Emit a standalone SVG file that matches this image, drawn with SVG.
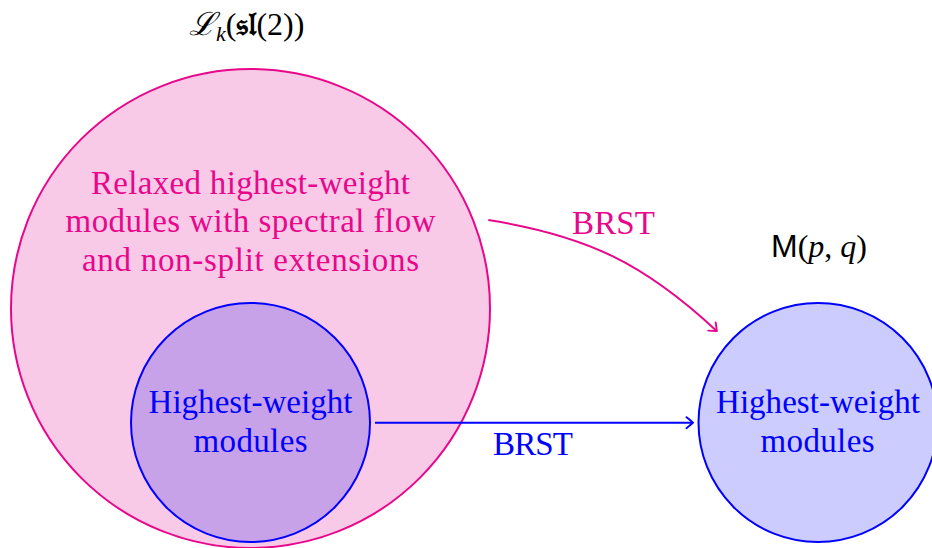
<svg xmlns="http://www.w3.org/2000/svg" width="932" height="548" viewBox="0 0 932 548">
<defs>
<style>
.lbl{font-family:"Liberation Serif","DejaVu Serif",serif;font-size:33px;text-anchor:middle}
.pk{fill:#E8078B}
.bl{fill:#0000FF}
.math{font-family:"Liberation Serif","DejaVu Serif",serif;font-size:32px;fill:#000}
</style>
<marker id="toB" viewBox="-9 -7 11 14" markerWidth="11" markerHeight="14" refX="0" refY="0" orient="auto" markerUnits="userSpaceOnUse">
<path d="M-6.5,-5.5 Q-1.5,-1.6 0,0 Q-1.5,1.6 -6.5,5.5" fill="none" stroke="#0000FF" stroke-width="1.9" stroke-linecap="round"/>
</marker>
<marker id="toP" viewBox="-9 -7 11 14" markerWidth="11" markerHeight="14" refX="0" refY="0" orient="auto" markerUnits="userSpaceOnUse">
<path d="M-6.5,-5.5 Q-1.5,-1.6 0,0 Q-1.5,1.6 -6.5,5.5" fill="none" stroke="#E8078B" stroke-width="1.9" stroke-linecap="round"/>
</marker>
</defs>
<rect width="932" height="548" fill="#fff"/>
<g id="relaxed">
<circle cx="250.5" cy="308.5" r="239.5" fill="#F9CAE8" stroke="#E8078B" stroke-width="2"/>
<text class="lbl pk" x="250.5" y="194" textLength="319" lengthAdjust="spacing">Relaxed highest-weight</text>
<text class="lbl pk" x="250.5" y="232" textLength="370" lengthAdjust="spacing">modules with spectral flow</text>
<text class="lbl pk" x="250.5" y="270.5" textLength="337" lengthAdjust="spacing">and non-split extensions</text>
</g>
<g id="hw-left">
<circle cx="250.5" cy="422.5" r="119.5" fill="#C8A2E9" stroke="#0000FF" stroke-width="2"/>
<text class="lbl bl" x="250.5" y="413" textLength="204" lengthAdjust="spacing">Highest-weight</text>
<text class="lbl bl" x="250.5" y="452" textLength="114" lengthAdjust="spacing">modules</text>
</g>
<g id="hw-right">
<circle cx="818" cy="422.5" r="119.5" fill="#CCCCFF" stroke="#0000FF" stroke-width="2"/>
<text class="lbl bl" x="818" y="413" textLength="204" lengthAdjust="spacing">Highest-weight</text>
<text class="lbl bl" x="817.5" y="452" textLength="114" lengthAdjust="spacing">modules</text>
</g>
<g id="title-left">
<text class="math" x="189" y="35"><tspan font-family="DejaVu Serif" font-style="italic">ℒ</tspan><tspan font-size="22" font-style="italic" dy="6">k</tspan><tspan dy="-6">(</tspan><tspan font-family="DejaVu Serif, Noto Sans, serif" font-weight="bold">𝔰𝔩</tspan><tspan>(2))</tspan></text>
</g>
<g id="title-right">
<text class="math" x="771" y="257"><tspan font-family="Liberation Sans, sans-serif">M</tspan><tspan>(</tspan><tspan font-style="italic">p</tspan><tspan>, </tspan><tspan font-style="italic">q</tspan><tspan>)</tspan></text>
</g>
<g id="connectors">
<path d="M488.3,220 C586.4,235.6 643.9,263.1 716.7,331" fill="none" stroke="#E8078B" stroke-width="2" marker-end="url(#toP)"/>
<text class="lbl pk" x="613.5" y="234" textLength="83" lengthAdjust="spacing">BRST</text>
<path d="M375,422.7 L693,422.7" fill="none" stroke="#0000FF" stroke-width="2" marker-end="url(#toB)"/>
<text class="lbl bl" x="533" y="455" textLength="80" lengthAdjust="spacing">BRST</text>
</g>
</svg>
